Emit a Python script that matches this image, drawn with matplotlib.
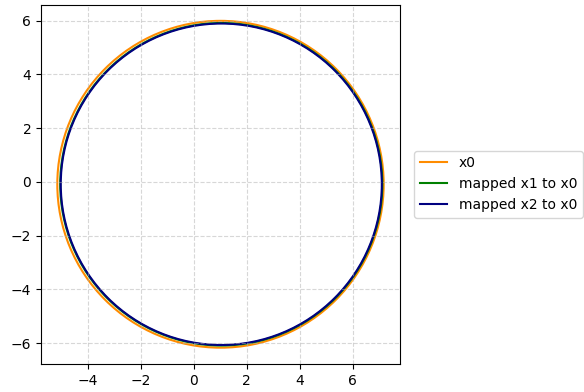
import matplotlib
matplotlib.use("Agg")
import matplotlib.pyplot as plt
from matplotlib.patches import Ellipse
from matplotlib.lines import Line2D

labels = ["x0", "mapped x1 to x0", "mapped x2 to x0"]
colors = ["darkorange", "green", "navy"]
center_x = [1.01, 1.04, 1.04]
center_y = [-0.09, -0.09, -0.09]
radius_x = [6.16, 6.08, 6.06]
radius_y = [6.08, 6.00, 5.98]

fig = plt.figure(figsize=(5.84, 3.92), dpi=100)
ax = fig.add_axes([0.0702, 0.0714, 0.6147, 0.9171])

handles = []
for lab, c, cx, cy, rx, ry in zip(labels, colors, center_x, center_y, radius_x, radius_y):
    e = Ellipse((cx, cy), 2 * rx, 2 * ry, fill=False, edgecolor=c, linewidth=1.5)
    ax.add_patch(e)
    handles.append(Line2D([], [], color=c, linewidth=1.5, label=lab))

ax.autoscale_view()
ax.margins(0.05)
ax.set_xticks([-4, -2, 0, 2, 4, 6])
ax.set_yticks([-6, -4, -2, 0, 2, 4, 6])
ax.grid(True, linestyle="--", alpha=0.5)
ax.legend(handles=handles, loc="center left", bbox_to_anchor=(1.02, 0.5))

fig.savefig("out.png", dpi=100)
